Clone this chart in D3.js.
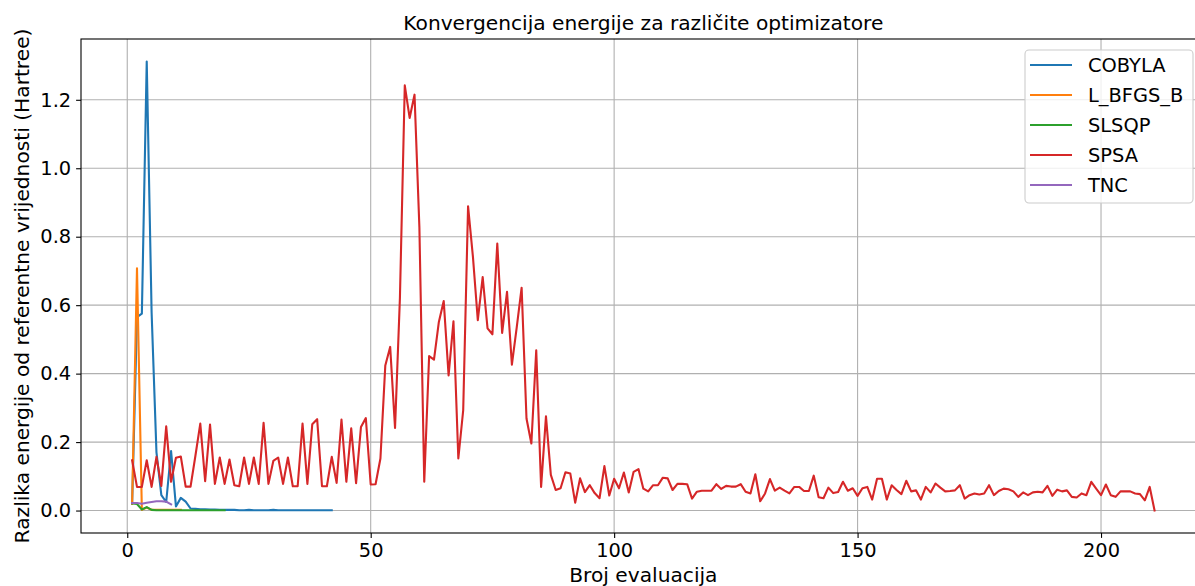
<!DOCTYPE html>
<html>
<head>
<meta charset="utf-8">
<script src="https://cdn.jsdelivr.net/npm/d3@7"></script>
<style>
  body { margin: 0; background: #fff; }
  svg { font-family: "DejaVu Sans", sans-serif; }
</style>
</head>
<body>
<svg width="1195" height="586"></svg>
<script>
let svg = d3.select("svg"),
    width = +svg.attr("width"),
    height = +svg.attr("height");

// values, evaluation index starts at 1
let cobyla = [0.02, 0.565, 0.575, 1.312, 0.58, 0.17, 0.045, 0.025, 0.174, 0.012,
    0.037, 0.026, 0.006, 0.005, 0.004, 0.004, 0.003, 0.003, 0.002, 0.002,
    0.002, 0.002, 0.001, 0.001, 0.002, 0.001, 0.001, 0.001, 0.001, 0.002,
    0.001, 0.001, 0.001, 0.001, 0.001, 0.001, 0.001, 0.001, 0.001, 0.001,
    0.001, 0.001];
let lbfgsb = [0.02, 0.708, 0.002, 0.009, 0.002, 0.002, 0.002, 0.002, 0.002, 0.002, 0.002];
let slsqp = [0.021, 0.019, 0.003, 0.01, 0.002, 0.001, 0.001, 0.001, 0.001, 0.001,
    0.001, 0.001, 0.001, 0.001, 0.001, 0.001, 0.001, 0.001, 0.001, 0.001];
let spsa = [0.147, 0.069, 0.069, 0.147, 0.069, 0.157, 0.072, 0.246, 0.084, 0.154,
    0.158, 0.07, 0.07, 0.16, 0.254, 0.086, 0.251, 0.078, 0.155, 0.078,
    0.149, 0.074, 0.071, 0.155, 0.078, 0.155, 0.078, 0.256, 0.078, 0.145,
    0.155, 0.078, 0.155, 0.071, 0.071, 0.254, 0.078, 0.252, 0.267, 0.071,
    0.071, 0.157, 0.081, 0.266, 0.084, 0.24, 0.08, 0.244, 0.27, 0.076,
    0.077, 0.152, 0.424, 0.478, 0.241, 0.62, 1.242, 1.147, 1.215, 0.828,
    0.084, 0.451, 0.441, 0.551, 0.612, 0.395, 0.553, 0.152, 0.293, 0.889,
    0.741, 0.556, 0.682, 0.532, 0.515, 0.78, 0.519, 0.639, 0.426, 0.536,
    0.651, 0.269, 0.196, 0.468, 0.069, 0.275, 0.104, 0.06, 0.065, 0.112,
    0.108, 0.023, 0.094, 0.054, 0.074, 0.051, 0.036, 0.13, 0.044, 0.093,
    0.065, 0.111, 0.053, 0.113, 0.121, 0.064, 0.056, 0.074, 0.074, 0.096,
    0.094, 0.06, 0.078, 0.078, 0.077, 0.035, 0.055, 0.058, 0.058, 0.058,
    0.077, 0.063, 0.072, 0.07, 0.07, 0.077, 0.055, 0.05, 0.106, 0.027,
    0.05, 0.092, 0.058, 0.067, 0.058, 0.05, 0.069, 0.069, 0.057, 0.057,
    0.102, 0.039, 0.036, 0.067, 0.051, 0.054, 0.084, 0.058, 0.065, 0.043,
    0.065, 0.069, 0.032, 0.093, 0.093, 0.032, 0.074, 0.06, 0.048, 0.087,
    0.056, 0.059, 0.032, 0.069, 0.053, 0.079, 0.067, 0.056, 0.057, 0.059,
    0.074, 0.035, 0.045, 0.05, 0.047, 0.05, 0.074, 0.045, 0.057, 0.064,
    0.062, 0.056, 0.04, 0.053, 0.045, 0.053, 0.055, 0.053, 0.072, 0.043,
    0.061, 0.056, 0.059, 0.04, 0.038, 0.05, 0.045, 0.084, 0.064, 0.045,
    0.076, 0.045, 0.04, 0.056, 0.056, 0.056, 0.05, 0.048, 0.03, 0.069,
    0.0];
let tnc = [0.022, 0.022, 0.02, 0.023, 0.025, 0.027, 0.027, 0.026, 0.018];

let names = ["COBYLA", "L_BFGS_B", "SLSQP", "SPSA", "TNC"];
let colors = ["#1f77b4", "#ff7f0e", "#2ca02c", "#d62728", "#9467bd"];
let xTicks = [0, 50, 100, 150, 200];
let yTicks = [0, 0.2, 0.4, 0.6, 0.8, 1.0, 1.2];

let series = [cobyla, lbfgsb, slsqp, spsa, tnc].map((vals, i) => ({
    name: names[i],
    color: colors[i],
    points: vals.map((v, j) => ({x: j + 1, y: v}))
}));

// plot box (the right part runs past the window, as in the reference)
let pLeft = 81, pTop = 39, pBottom = 533, pRight = 1205.7;
let fs = 19.4,      // ticks, legend
    fsLabel = 20.2; // title, axis labels

let allPts = series.flatMap(s => s.points);
let xExt = d3.extent(allPts, d => d.x),
    yExt = d3.extent(allPts, d => d.y);
let xPad = (xExt[1] - xExt[0]) * 0.05,
    yPad = (yExt[1] - yExt[0]) * 0.05;

let x = d3.scaleLinear().domain([xExt[0] - xPad, xExt[1] + xPad]).range([pLeft, pRight]);
let y = d3.scaleLinear().domain([yExt[0] - yPad, yExt[1] + yPad]).range([pBottom, pTop]);

// grid
let grid = svg.append("g").attr("class", "grid");
grid.selectAll("line.gx").data(xTicks).enter().append("line")
    .attr("class", "gx")
    .attr("x1", d => x(d)).attr("x2", d => x(d))
    .attr("y1", pTop).attr("y2", pBottom)
    .attr("stroke", "#b0b0b0").attr("stroke-width", 1.1);
grid.selectAll("line.gy").data(yTicks).enter().append("line")
    .attr("class", "gy")
    .attr("x1", pLeft).attr("x2", pRight)
    .attr("y1", d => y(d)).attr("y2", d => y(d))
    .attr("stroke", "#b0b0b0").attr("stroke-width", 1.1);

// lines
let line = d3.line().x(d => x(d.x)).y(d => y(d.y));
svg.append("g").attr("class", "lines")
    .selectAll("path")
    .data(series).enter().append("path")
        .attr("d", d => line(d.points))
        .attr("fill", "none")
        .attr("stroke", d => d.color)
        .attr("stroke-width", 2.1)
        .attr("stroke-linejoin", "round")
        .attr("stroke-linecap", "square");

// axes
let xAxis = svg.append("g")
    .attr("transform", `translate(0,${pBottom})`)
    .call(d3.axisBottom(x).tickValues(xTicks).tickFormat(d3.format("d"))
        .tickSize(4.9).tickPadding(4.9));
let yAxis = svg.append("g")
    .attr("transform", `translate(${pLeft},0)`)
    .call(d3.axisLeft(y).tickValues(yTicks).tickFormat(d3.format(".1f"))
        .tickSize(4.9).tickPadding(4.9));

[xAxis, yAxis].forEach(a => {
    a.select(".domain").remove();
    a.selectAll(".tick line").attr("stroke", "#000").attr("stroke-width", 1.1);
    a.selectAll(".tick text")
        .attr("font-family", "DejaVu Sans")
        .attr("font-size", fs)
        .attr("fill", "#000");
});

// spines
svg.append("rect")
    .attr("x", pLeft).attr("y", pTop)
    .attr("width", pRight - pLeft).attr("height", pBottom - pTop)
    .attr("fill", "none").attr("stroke", "#000").attr("stroke-width", 1.1);

// titles
svg.append("text")
    .attr("x", (pLeft + pRight) / 2).attr("y", 30)
    .attr("text-anchor", "middle")
    .attr("font-size", fsLabel)
    .text("Konvergencija energije za različite optimizatore");

svg.append("text")
    .attr("x", (pLeft + pRight) / 2).attr("y", 582)
    .attr("text-anchor", "middle")
    .attr("font-size", fsLabel)
    .text("Broj evaluacija");

svg.append("text")
    .attr("transform", `translate(29,${(pTop + pBottom) / 2}) rotate(-90)`)
    .attr("text-anchor", "middle")
    .attr("font-size", fsLabel)
    .text("Razlika energije od referentne vrijednosti (Hartree)");

// legend
let lg = svg.append("g").attr("class", "legend");
lg.append("rect")
    .attr("x", 1025).attr("y", 50)
    .attr("width", 168).attr("height", 153)
    .attr("rx", 4)
    .attr("fill", "#fff").attr("fill-opacity", 0.8)
    .attr("stroke", "#cccccc").attr("stroke-width", 1.1);

let items = lg.selectAll("g.item")
    .data(series).enter().append("g")
        .attr("class", "item")
        .attr("transform", (d, i) => `translate(0,${65 + i * 30})`);
items.append("line")
    .attr("x1", 1030).attr("x2", 1072)
    .attr("stroke", d => d.color).attr("stroke-width", 2.1);
items.append("text")
    .attr("x", 1088).attr("dy", "0.35em")
    .attr("font-size", fs)
    .text(d => d.name);
</script>
</body>
</html>
